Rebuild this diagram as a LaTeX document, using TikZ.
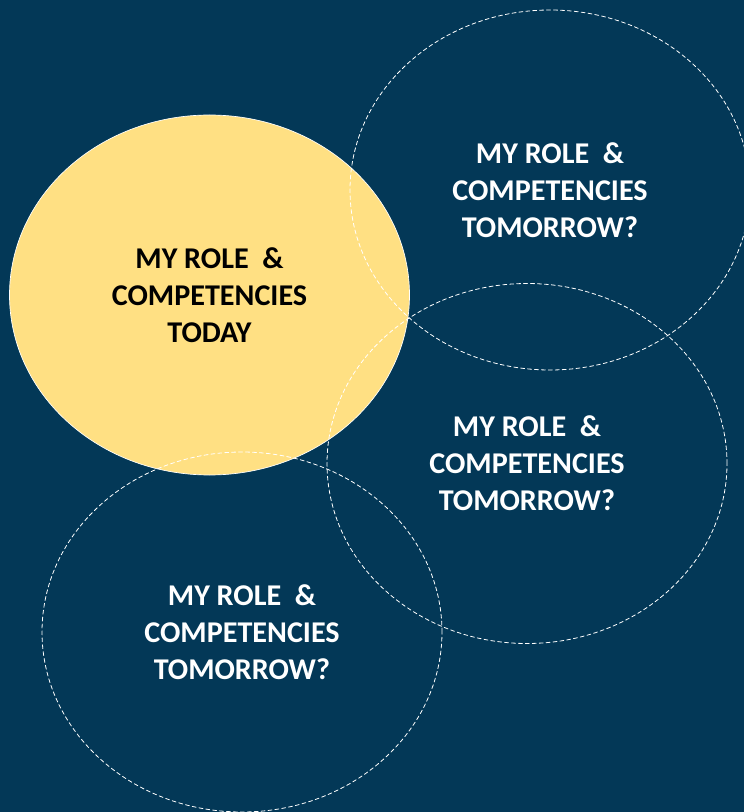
\documentclass[tikz,border=0pt]{standalone}
\usepackage{fontspec}
\setmainfont{Carlito}
\usepackage{xcolor}
\usetikzlibrary{shapes.geometric}
\definecolor{navy}{HTML}{033857}
\definecolor{sunny}{HTML}{FFE083}

\begin{document}
\begin{tikzpicture}[line cap=round,line join=round,x=0.75pt,y=-0.75pt,
    role/.style={ellipse,minimum width=300pt,minimum height=270pt,inner sep=0pt,
      align=center,font=\fontsize{22.6}{27.7}\selectfont\bfseries},
    today/.style={role,fill=sunny,draw=white,line width=0.5pt,text=black},
    future/.style={role,draw=white,line width=0.6pt,dash pattern=on 3pt off 2.2pt,text=white}]
    \fill[navy] (0,0) rectangle (744,812);
    \useasboundingbox (0,0) rectangle (744,812);
    % current role
    \node[today] (now) at (209.5,295) {MY ROLE \ \&\\COMPETENCIES\\TODAY};
    % possible roles
    \node[future] (next1) at (550,190) {MY ROLE \ \&\\COMPETENCIES\\TOMORROW?};
    \node[future] (next2) at (527,463.5) {MY ROLE \ \&\\COMPETENCIES\\TOMORROW?};
    \node[future] (next3) at (242,632) {MY ROLE \ \&\\COMPETENCIES\\TOMORROW?};
\end{tikzpicture}
\end{document}
